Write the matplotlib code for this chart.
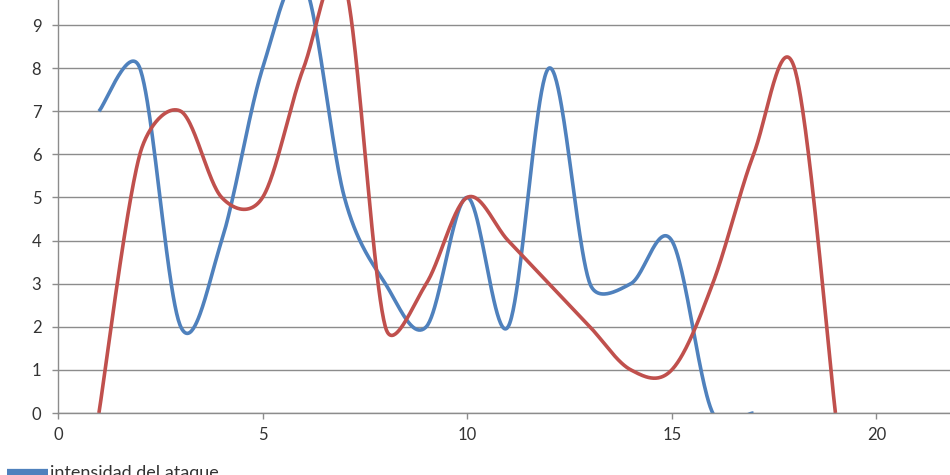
import numpy as np
import matplotlib
matplotlib.use("Agg")
import matplotlib.pyplot as plt

# series (x = 1..n)
blue_x = [1, 2, 3, 4, 5, 6, 7, 8, 9, 10, 11, 12, 13, 14, 15, 16, 17]
blue_y = [7, 8, 2, 4, 8, 10, 5, 3, 2, 5, 2, 8, 3, 3, 4, 0, 0]
red_x = [1, 2, 3, 4, 5, 6, 7, 8, 9, 10, 11, 12, 13, 14, 15, 16, 17, 18, 19]
red_y = [0, 6, 7, 5, 5, 8, 10, 2, 3, 5, 4, 3, 2, 1, 1, 3, 6, 8, 0]
labels = ["intensidad del ataque", "intensidad de la defensa"]

BLUE = "#4F81BD"
RED = "#C0504D"

# rough pixels per data unit, so the smoothing works in screen space like Excel
PX_X, PX_Y = 40.9, 43.1


def _limit(v, max_len):
    n = np.hypot(*v)
    return v * (max_len / n) if n > max_len else v


def smooth(xs, ys, n=50, k=0.5):
    """Bezier smoothing close to Excel's 'smoothed line' scatter."""
    p = np.column_stack([np.asarray(xs) * PX_X, np.asarray(ys) * PX_Y]).astype(float)
    p = np.vstack([p[0], p, p[-1]])
    out = []
    for i in range(1, len(p) - 2):
        p0, p1, p2, p3 = p[i - 1], p[i], p[i + 1], p[i + 2]
        d12 = np.hypot(*(p2 - p1))
        c1 = p1 + _limit((p2 - p0) / 6.0, k * d12)
        c2 = p2 - _limit((p3 - p1) / 6.0, k * d12)
        t = np.linspace(0, 1, n)[:, None]
        seg = ((1 - t) ** 3) * p1 + 3 * ((1 - t) ** 2) * t * c1 \
            + 3 * (1 - t) * t ** 2 * c2 + t ** 3 * p2
        out.append(seg if i == 1 else seg[1:])
    out = np.vstack(out)
    return out[:, 0] / PX_X, out[:, 1] / PX_Y


plt.rcParams["font.family"] = ["Lato", "DejaVu Sans"]

fig = plt.figure(figsize=(9.5, 4.75), dpi=100)
ax = fig.add_axes([58 / 950, 62 / 475, 1 - 58 / 950, 1 - 62 / 475])

for xs, ys, c, lab in [(blue_x, blue_y, BLUE, labels[0]), (red_x, red_y, RED, labels[1])]:
    sx, sy = smooth(xs, ys)
    ax.plot(sx, sy, color=c, linewidth=2.6, label=lab, solid_capstyle="butt")

ax.set_xlim(0, 21.8)
ax.set_ylim(0, 9.58)
ax.set_xticks([0, 5, 10, 15, 20])
ax.set_yticks(range(10))
ax.yaxis.grid(True, color="#8c8c8c", linewidth=1.0)
ax.set_axisbelow(True)
for s in ["top", "right"]:
    ax.spines[s].set_visible(False)
for s in ["left", "bottom"]:
    ax.spines[s].set_color("#8c8c8c")
    ax.spines[s].set_linewidth(1.0)
ax.tick_params(axis="both", colors="#8c8c8c", labelcolor="#333333",
               labelsize=12, length=4, width=1)
ax.tick_params(axis="x", pad=6)
ax.tick_params(axis="y", pad=8)

leg = fig.legend(loc="upper left", bbox_to_anchor=(-0.006, 0.047), frameon=False,
                 fontsize=13, handlelength=2.3, handletextpad=0.1,
                 labelcolor="#333333", borderpad=0.2)
for h in leg.legend_handles:
    h.set_linewidth(4.5)

fig.savefig("out.png", dpi=100)
